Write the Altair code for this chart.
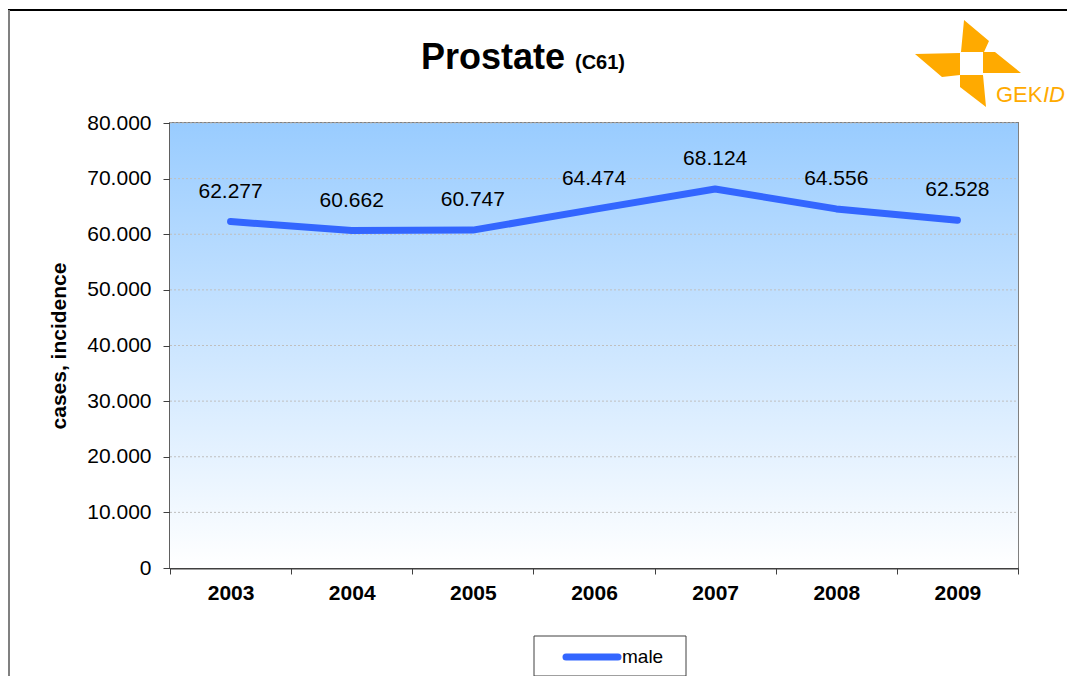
import altair as alt
import pandas as pd

years = ["2003", "2004", "2005", "2006", "2007", "2008", "2009"]
cases = [62277, 60662, 60747, 64474, 68124, 64556, 62528]
series_name = "male"
title_main = "Prostate"
title_code = "(C61)"
y_title = "cases, incidence"
y_ticks = [0, 10000, 20000, 30000, 40000, 50000, 60000, 70000, 80000]
logo_word = "GEK"
logo_word_italic = "ID"

df = pd.DataFrame({
    "year": years,
    "cases": cases,
    "label": [f"{v/1000:.3f}" for v in cases],
    "series": series_name,
})
grid_df = pd.DataFrame({"cases": y_ticks[1:]})

W, H = 848, 445
FONT = "Liberation Sans"
LINE_COLOR = "#3366FF"
ORANGE = "#FFAA00"

gradient = alt.LinearGradient(
    gradient="linear",
    stops=[alt.GradientStop(color="#99CCFF", offset=0),
           alt.GradientStop(color="#FFFFFF", offset=1)],
    x1=0, x2=0, y1=0, y2=1,
)

x_enc = alt.X(
    "year:N", sort=years,
    scale=alt.Scale(type="band", paddingInner=0, paddingOuter=0),
    bandPosition=0.5,
    axis=alt.Axis(
        title=None, labelAngle=0, labelFont=FONT, labelFontSize=21,
        labelFontWeight="bold", labelColor="#000000", labelPadding=8,
        tickBand="extent", tickSize=6, tickColor="#404040",
        domainColor="#404040", domainWidth=2, grid=False,
    ),
)
y_scale = alt.Scale(domain=[0, 80000], nice=False)
y_axis = alt.Axis(
    values=y_ticks,
    labelExpr="datum.value == 0 ? '0' : format(datum.value/1000, '.3f')",
    labelFont=FONT, labelFontSize=21, labelColor="#000000",
    labelPadding=12, tickSize=7, tickColor="#404040",
    domainColor="#404040", domainWidth=2,
    grid=False,
    title=y_title, titleFont=FONT, titleFontSize=21,
    titleFontWeight="bold", titleColor="#000000", titlePadding=17,
)
y_enc = alt.Y("cases:Q", scale=y_scale, axis=y_axis)

one = pd.DataFrame({"k": [0]})

bg = alt.Chart(one).mark_rect(color=gradient).encode(
    x=alt.value(0), x2=alt.value(W), y=alt.value(0), y2=alt.value(H))

grid = alt.Chart(grid_df).mark_rule(
    color="#BFBFBF", strokeWidth=1, strokeDash=[2, 2]
).encode(x=alt.value(0), x2=alt.value(W), y=y_enc)

line = alt.Chart(df).mark_line(
    color=LINE_COLOR, strokeWidth=7, strokeCap="round", strokeJoin="round"
).encode(x=x_enc, y=y_enc)

labels = alt.Chart(df).mark_text(
    font=FONT, fontSize=21, color="#000000", dy=-30, baseline="middle"
).encode(x=x_enc, y=y_enc, text="label:N")

title1 = alt.Chart(one).mark_text(
    text=title_main, font=FONT, fontSize=36, fontWeight="bold",
    align="right", baseline="alphabetic", color="#000000"
).encode(x=alt.value(395), y=alt.value(-54))

title2 = alt.Chart(one).mark_text(
    text=title_code, font=FONT, fontSize=20, fontWeight="bold",
    align="left", baseline="alphabetic", color="#000000"
).encode(x=alt.value(405), y=alt.value(-54))

# legend (manual)
leg_box = alt.Chart(one).mark_rect(
    fill="#FFFFFF", stroke="#404040", strokeWidth=1
).encode(x=alt.value(364), x2=alt.value(516), y=alt.value(513), y2=alt.value(553))
leg_line = alt.Chart(one).mark_rule(
    color=LINE_COLOR, strokeWidth=7, strokeCap="round"
).encode(x=alt.value(396), x2=alt.value(448), y=alt.value(534))
leg_text = alt.Chart(one).mark_text(
    text=series_name, font=FONT, fontSize=19, align="left",
    baseline="middle", color="#000000"
).encode(x=alt.value(452), y=alt.value(534))

# frame lines
frame_top = alt.Chart(one).mark_rule(color="#000000", strokeWidth=2).encode(
    x=alt.value(-162), x2=alt.value(910), y=alt.value(-113))
frame_left = alt.Chart(one).mark_rule(color="#808080", strokeWidth=2).encode(
    x=alt.value(-161), y=alt.value(-113), y2=alt.value(570))

# logo
logo_path = (
    "M-0.075,-0.821 L0.396,-0.425 L0.302,-0.217 L-0.132,-0.217 Z "
    "M-1,-0.179 L-0.151,-0.198 L-0.151,0.217 L-0.491,0.255 Z "
    "M0.283,-0.217 L0.509,-0.217 L1,0.179 L0.283,0.179 Z "
    "M-0.151,0.217 L0.283,0.217 L0.340,0.821 L-0.151,0.443 Z"
)
logo = alt.Chart(one).mark_point(
    shape=logo_path, filled=True, color=ORANGE, opacity=1, size=106 * 106,
    strokeWidth=0
).encode(x=alt.value(798), y=alt.value(-59.5))
logo_t1 = alt.Chart(one).mark_text(
    text=logo_word, font=FONT, fontSize=22, color=ORANGE, align="left",
    baseline="alphabetic"
).encode(x=alt.value(826), y=alt.value(-21))
logo_t2 = alt.Chart(one).mark_text(
    text=logo_word_italic, font=FONT, fontSize=22, fontStyle="italic",
    color=ORANGE, align="left", baseline="alphabetic"
).encode(x=alt.value(873), y=alt.value(-21))

chart = alt.layer(
    bg, grid, line, labels, title1, title2, leg_box, leg_line, leg_text,
    frame_top, frame_left, logo, logo_t1, logo_t2
).properties(
    width=W, height=H,
    autosize=alt.AutoSizeParams(type="none"),
    padding={"left": 162, "top": 115, "right": 49, "bottom": 108},
).configure_view(
    stroke="#808080", strokeWidth=2
)

chart.save("out.html", embed_options={"renderer": "svg", "actions": False})
